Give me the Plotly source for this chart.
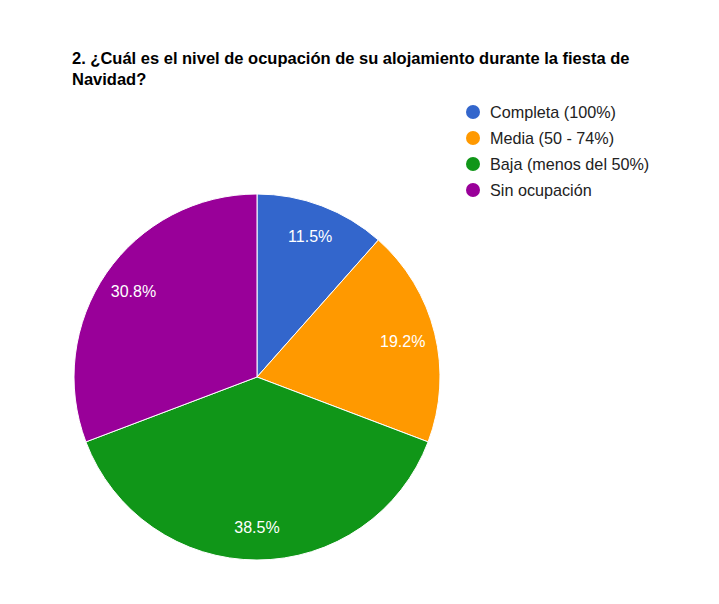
"""Pie chart: nivel de ocupación del alojamiento durante Navidad."""
import plotly.graph_objects as go

W, H = 719, 604
OFF = 8  # page body margin of the html export
FONT = "Liberation Sans, Arial, sans-serif"

TITLE = ("2. ¿Cuál es el nivel de ocupación de su alojamiento durante la fiesta de"
         "<br>Navidad?")
labels = ["Completa (100%)", "Media (50 - 74%)", "Baja (menos del 50%)",
          "Sin ocupación"]
counts = [3, 5, 10, 8]
colors = ["#3366cc", "#ff9900", "#109618", "#990099"]


def px_x(v):
    return (v - OFF) / W


def px_y(v):
    return 1 - (v - OFF) / H


dom = dict(x=[px_x(74), px_x(440)], y=[px_y(560), px_y(194)])

fig = go.Figure()
# filled slices
fig.add_trace(go.Pie(
    labels=labels, values=counts, sort=False, direction="clockwise",
    rotation=0, domain=dom, textinfo="none", hoverinfo="label+percent",
    marker=dict(colors=colors, line=dict(color="white", width=1)),
    showlegend=False))
# transparent ring carrying the percentage labels near the rim
fig.add_trace(go.Pie(
    labels=labels, values=counts, sort=False, direction="clockwise",
    rotation=0, domain=dom, hole=0.64, textinfo="percent",
    texttemplate="%{percent:.1%}", textposition="inside",
    insidetextorientation="horizontal",
    textfont=dict(family=FONT, size=16, color="white"),
    marker=dict(colors=["rgba(0,0,0,0)"] * 4, line=dict(width=0)),
    hoverinfo="skip", showlegend=False))

# legend drawn by hand (round markers, 26px rows)
for i, (lab, col) in enumerate(zip(labels, colors)):
    yc = 112 + 26 * i
    fig.add_shape(type="circle", xref="paper", yref="paper",
                  xsizemode="pixel", ysizemode="pixel",
                  xanchor=px_x(473), yanchor=px_y(yc),
                  x0=-7, x1=7, y0=-7, y1=7,
                  fillcolor=col, line=dict(width=0))
    fig.add_annotation(x=px_x(488), y=px_y(yc), xref="paper", yref="paper",
                       text=lab, showarrow=False, xanchor="left",
                       yanchor="middle",
                       font=dict(family=FONT, size=16.2, color="#222222"))

fig.add_annotation(x=px_x(70), y=px_y(47), xref="paper", yref="paper",
                   text=f"<b>{TITLE}</b>", showarrow=False, xanchor="left",
                   yanchor="top", align="left",
                   font=dict(family=FONT, size=16.5, color="#000000"))

fig.update_layout(width=W, height=H, autosize=False,
                  margin=dict(l=0, r=0, t=0, b=0),
                  paper_bgcolor="white", plot_bgcolor="white",
                  font=dict(family=FONT))
fig.write_html("out.html")
